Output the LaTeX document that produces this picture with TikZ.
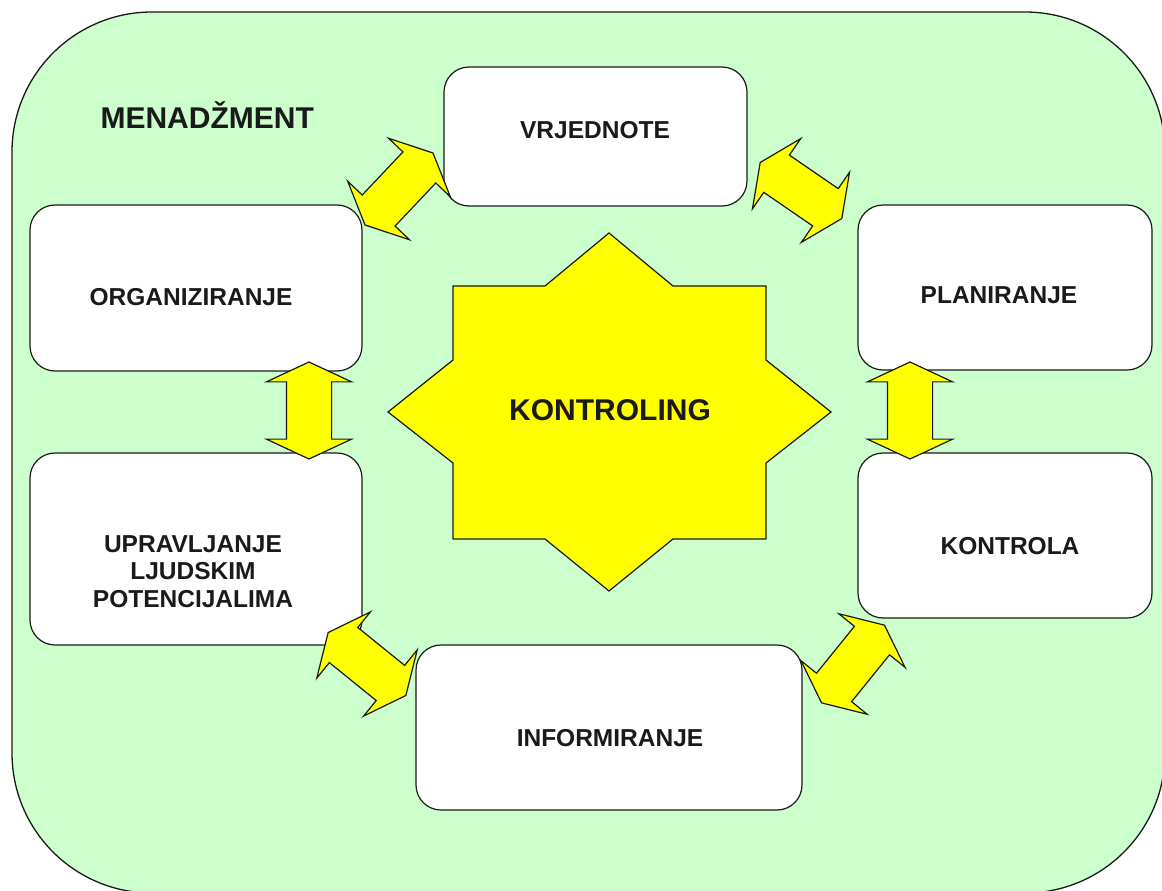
\documentclass[tikz,border=0pt]{standalone}
\usepackage{fontspec}
\setmainfont{Liberation Sans}
\usetikzlibrary{shapes.arrows}
\definecolor{bggreen}{HTML}{CCFFCC}
\definecolor{ylw}{HTML}{FFFF00}
\definecolor{ink}{HTML}{1A1A1A}
\begin{document}
\begin{tikzpicture}[x=1pt,y=-1pt,
 box/.style={draw=ink, line width=1.2pt, fill=white, rounded corners=25pt, inner sep=0pt},
 lbl/.style={anchor=base, font=\bfseries\fontsize{24.5}{27.5}\selectfont, text=ink, align=center},
 biglbl/.style={font=\bfseries\fontsize{30}{34}\selectfont, text=ink},
 darrow/.style={double arrow, draw=ink, line width=1.2pt, fill=ylw, minimum height=98pt, inner xsep=0pt, inner ysep=22pt, double arrow head extend=20pt, double arrow tip angle=130},
]
\useasboundingbox (0,0) rectangle (1162,891);
\draw[fill=bggreen, draw=ink, line width=1.3pt, rounded corners=140pt] (12,12) rectangle (1165,893);

% boxes
\node[box, minimum width=303pt, minimum height=139pt] (vrj) at (595.5,136.5) {};
\node[box, minimum width=332pt, minimum height=166pt] (org) at (196,288) {};
\node[box, minimum width=294pt, minimum height=165pt] (pla) at (1005,287.5) {};
\node[box, minimum width=332pt, minimum height=192pt] (upr) at (196,549) {};
\node[box, minimum width=294pt, minimum height=165pt] (kon) at (1005,535.5) {};
\node[box, minimum width=386pt, minimum height=165pt] (inf) at (609,727.5) {};

% arrows
\node[darrow, minimum height=99pt, rotate=46.6] (a1) at (399,189) {};
\node[darrow, minimum height=99pt, rotate=-34.5] (a2) at (801,190.5) {};
\node[darrow, minimum height=97pt, rotate=90] (a3) at (309,410.5) {};
\node[darrow, minimum height=97pt, rotate=90] (a4) at (910,410.5) {};
\node[darrow, minimum height=100pt, rotate=-39] (a5) at (367,664) {};
\node[darrow, minimum height=100pt, rotate=51] (a6) at (853,664) {};

% star
\draw[fill=ylw, draw=ink, line width=1.2pt] (609,233) -- (673,286) -- (766,286) -- (766,360) -- (831,412) -- (766,463) -- (766,539) -- (673,539) -- (609,591) -- (545,539) -- (453,539) -- (453,463) -- (388,412) -- (453,360) -- (453,286) -- (545,286) -- cycle;

% labels
\node[biglbl, anchor=base west] (men) at (97,128) {MENADŽMENT};
\node[biglbl, anchor=base] (kontroling) at (610,420) {KONTROLING};
\node[lbl] (tv) at (595,138) {VRJEDNOTE};
\node[lbl] (to) at (191,305) {ORGANIZIRANJE};
\node[lbl] (tp) at (999,303) {PLANIRANJE};
\node[lbl] (tu) at (193,607) {UPRAVLJANJE\\LJUDSKIM\\POTENCIJALIMA};
\node[lbl] (tk) at (1010,554) {KONTROLA};
\node[lbl] (ti) at (610,746) {INFORMIRANJE};
\end{tikzpicture}
\end{document}
